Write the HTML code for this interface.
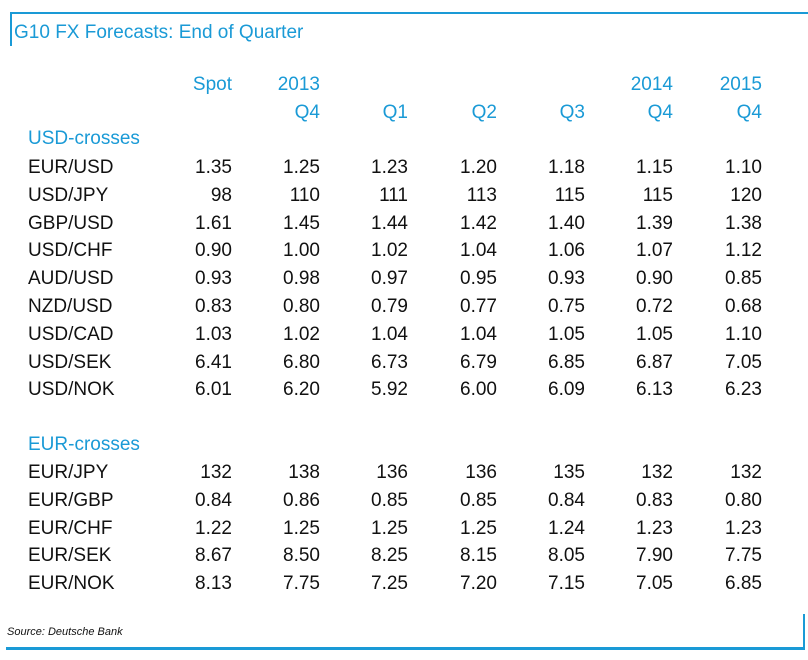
<!DOCTYPE html>
<html><head><meta charset="utf-8"><style>
body{margin:0;width:808px;height:660px;background:#fff;position:relative;overflow:hidden;font-family:"Liberation Sans",Arial,sans-serif}
.t{position:absolute;font-size:19px;line-height:24px;height:24px;white-space:nowrap;color:#111}
.r{text-align:right;width:80px}
.b{color:#1a9ad6}
.ln{position:absolute;background:#1a9ad6}
</style></head><body>
<div class="ln" style="left:10px;top:12px;width:798px;height:2px"></div>
<div class="ln" style="left:10px;top:12px;width:2px;height:34px"></div>
<div class="ln" style="left:6px;top:647px;width:799px;height:3px"></div>
<div class="ln" style="left:803px;top:614px;width:2px;height:36px"></div>
<div class="t b" style="left:14px;top:21px">G10 FX Forecasts: End of Quarter</div>
<div class="t" style="left:7px;top:620px;font-size:11px;font-style:italic">Source: Deutsche Bank</div>
<div id="tbl"></div>
<script>
const colRight=[232,320,408,497,585,673,762];
const head1=["Spot","2013","","","","2014","2015"];
const head2=["","Q4","Q1","Q2","Q3","Q4","Q4"];
const usdPairs=["EUR/USD","USD/JPY","GBP/USD","USD/CHF","AUD/USD","NZD/USD","USD/CAD","USD/SEK","USD/NOK"];
const usdVals=[
["1.35","1.25","1.23","1.20","1.18","1.15","1.10"],
["98","110","111","113","115","115","120"],
["1.61","1.45","1.44","1.42","1.40","1.39","1.38"],
["0.90","1.00","1.02","1.04","1.06","1.07","1.12"],
["0.93","0.98","0.97","0.95","0.93","0.90","0.85"],
["0.83","0.80","0.79","0.77","0.75","0.72","0.68"],
["1.03","1.02","1.04","1.04","1.05","1.05","1.10"],
["6.41","6.80","6.73","6.79","6.85","6.87","7.05"],
["6.01","6.20","5.92","6.00","6.09","6.13","6.23"]];
const eurPairs=["EUR/JPY","EUR/GBP","EUR/CHF","EUR/SEK","EUR/NOK"];
const eurVals=[
["132","138","136","136","135","132","132"],
["0.84","0.86","0.85","0.85","0.84","0.83","0.80"],
["1.22","1.25","1.25","1.25","1.24","1.23","1.23"],
["8.67","8.50","8.25","8.15","8.05","7.90","7.75"],
["8.13","7.75","7.25","7.20","7.15","7.05","6.85"]];
const T=document.getElementById('tbl');
function add(txt,x,cy,cls,name){
 const d=document.createElement('div');
 d.className='t '+cls;d.textContent=txt;
 d.style.top=(cy-10)+'px';
 if(cls.indexOf('r')>=0)d.style.left=(x-80)+'px';else d.style.left=x+'px';
 
 
 T.appendChild(d);
}
head1.forEach((h,i)=>{if(h)add(h,colRight[i],83,'r b','header-year');});
head2.forEach((h,i)=>{if(h)add(h,colRight[i],111,'r b','header-quarter');});
add('USD-crosses',28,137,'b','section-usd-crosses');
const step=27.8;
usdPairs.forEach((p,j)=>{const cy=166+j*step;add(p,28,cy,'','pair-label');
 usdVals[j].forEach((v,i)=>add(v,colRight[i],cy,'r','cell-value'));});
add('EUR-crosses',28,443,'b','section-eur-crosses');
eurPairs.forEach((p,j)=>{const cy=471+j*step;add(p,28,cy,'','pair-label');
 eurVals[j].forEach((v,i)=>add(v,colRight[i],cy,'r','cell-value'));});
</script>
</body></html>
